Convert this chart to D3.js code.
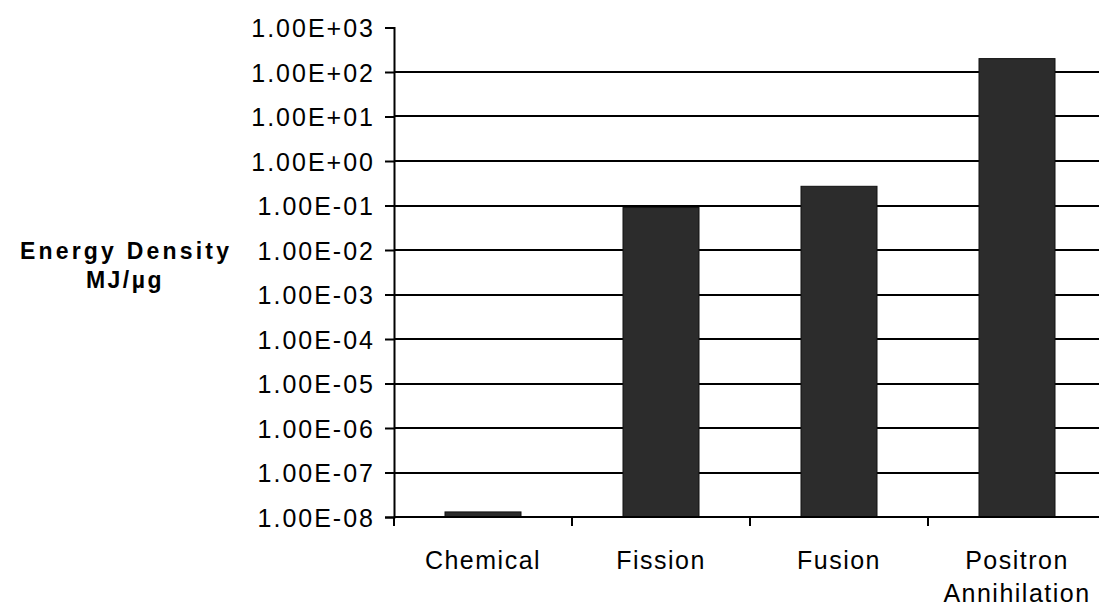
<!DOCTYPE html>
<html>
<head>
<meta charset="utf-8">
<script src="https://cdn.jsdelivr.net/npm/d3@7"></script>
<style>
  html, body { margin: 0; padding: 0; background: #fff; }
  svg { display: block; font-family: "Liberation Sans", Arial, sans-serif; }
</style>
</head>
<body>
<svg id="chart" width="1099" height="610"></svg>
<script>
// Data
const categories = ["Chemical", "Fission", "Fusion", "Positron Annihilation"];
const energyDensity = [1.3e-8, 9e-2, 2.7e-1, 2.0e2];
const tickValues = [1e-8, 1e-7, 1e-6, 1e-5, 1e-4, 1e-3, 1e-2, 1e-1, 1e0, 1e1, 1e2, 1e3];
const tickLabels = ["1.00E-08", "1.00E-07", "1.00E-06", "1.00E-05", "1.00E-04", "1.00E-03",
                    "1.00E-02", "1.00E-01", "1.00E+00", "1.00E+01", "1.00E+02", "1.00E+03"];
const axisTitle = ["Energy Density", "MJ/µg"];

const svg = d3.select("#chart");
const x0 = 394, x1 = 1106, yTop = 27.5, yBot = 517;

const y = d3.scaleLog().domain([1e-8, 1e3]).range([yBot, yTop]);
const x = d3.scaleBand().domain(categories).range([x0, x1])
  .paddingInner(0.573).paddingOuter(0.2865);

// gridlines
svg.append("g").selectAll("line")
  .data(tickValues.filter(v => v > 1e-8 && v < 1e3))
  .join("line")
  .attr("x1", x0).attr("x2", 1099)
  .attr("y1", d => Math.round(y(d))).attr("y2", d => Math.round(y(d)))
  .attr("stroke", "#000").attr("stroke-width", 2);

// bars
svg.append("g").selectAll("rect")
  .data(categories)
  .join("rect")
  .attr("x", d => x(d))
  .attr("width", x.bandwidth())
  .attr("y", (d, i) => y(energyDensity[i]))
  .attr("height", (d, i) => yBot - y(energyDensity[i]))
  .attr("fill", "#2c2c2c")
  .attr("stroke", "#111").attr("stroke-width", 1);

// y axis
const yAxis = d3.axisLeft(y).tickValues(tickValues)
  .tickFormat((d, i) => tickLabels[i]).tickSize(9).tickPadding(10);
const gy = svg.append("g").attr("transform", `translate(${x0},0)`).call(yAxis);
gy.select(".domain").attr("stroke", "#000").attr("stroke-width", 2);
gy.selectAll(".tick line").attr("stroke", "#000").attr("stroke-width", 2);
gy.selectAll(".tick text")
  .attr("font-family", "'Liberation Sans', Arial, sans-serif")
  .attr("font-size", 25).attr("fill", "#000")
  .attr("letter-spacing", "2px")
  .attr("dy", "0.36em");

// x axis
const xAxis = d3.axisBottom(x).tickSize(0).tickPadding(0);
const gx = svg.append("g").attr("transform", `translate(0,${yBot})`).call(xAxis);
gx.select(".domain").attr("d", `M${x0},0H1099`).attr("stroke", "#000").attr("stroke-width", 2);
gx.selectAll(".tick text").remove();
// category boundary ticks
const step = x.step();
svg.append("g").selectAll("line")
  .data(d3.range(0, categories.length + 1))
  .join("line")
  .attr("x1", i => x0 + i * step).attr("x2", i => x0 + i * step)
  .attr("y1", yBot).attr("y2", yBot + 9)
  .attr("stroke", "#000").attr("stroke-width", 2);

// category labels (wrapped)
const labelLines = {"Positron Annihilation": ["Positron", "Annihilation"]};
gx.selectAll(".tick").each(function(d) {
  const lines = labelLines[d] || [d];
  const t = d3.select(this).append("text")
    .attr("fill", "#000").attr("font-size", 25)
    .attr("letter-spacing", "1.5px")
    .attr("text-anchor", "middle")
    .attr("font-family", "'Liberation Sans', Arial, sans-serif");
  lines.forEach((l, i) => {
    t.append("tspan").attr("x", 0).attr("y", 52 + i * 33).text(l);
  });
});

// axis title
const title = svg.append("text")
  .attr("font-family", "'Liberation Sans', Arial, sans-serif")
  .attr("font-weight", "bold").attr("font-size", 23)
  .attr("text-anchor", "middle").attr("fill", "#000");
title.append("tspan").attr("x", 126).attr("y", 259)
  .attr("letter-spacing", "3.2px").text(axisTitle[0]);
title.append("tspan").attr("x", 125).attr("y", 288)
  .attr("letter-spacing", "2.5px").text(axisTitle[1]);
</script>
</body>
</html>
